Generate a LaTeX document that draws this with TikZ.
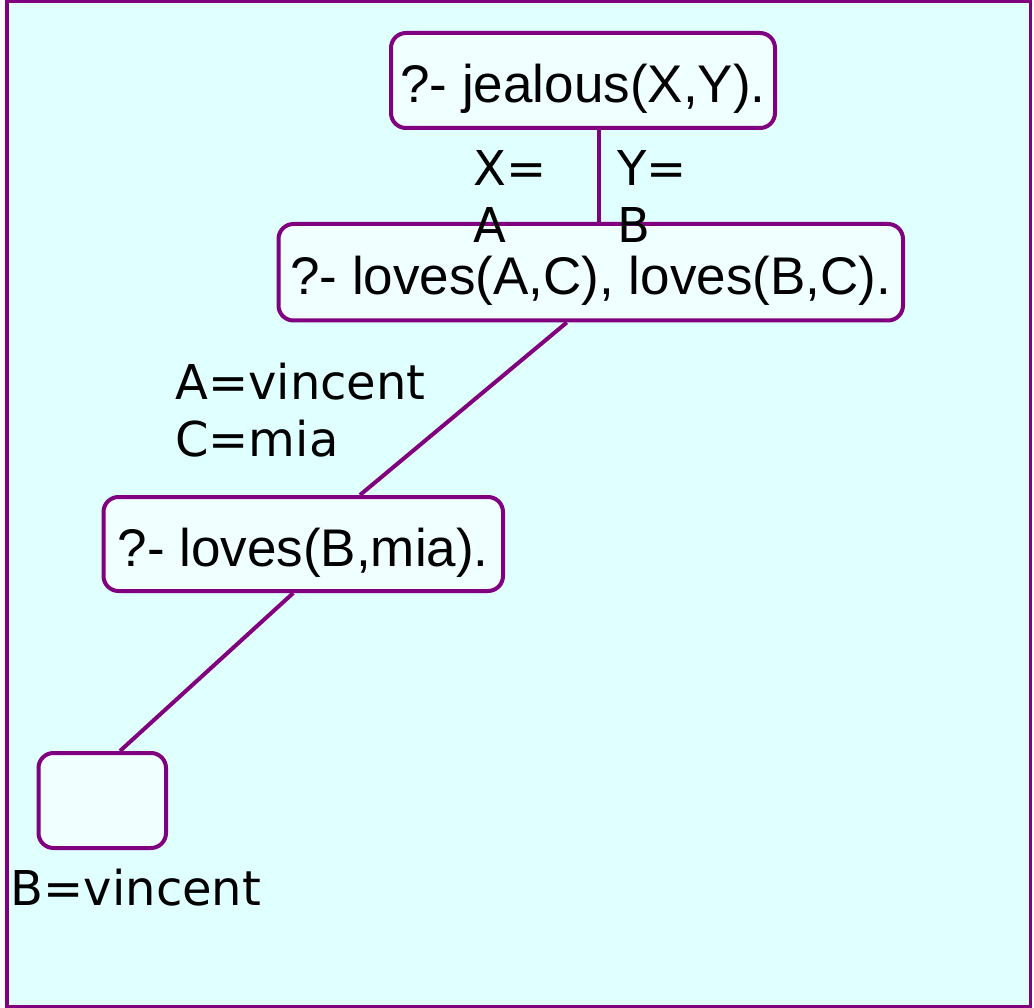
\documentclass[tikz,border=0pt]{standalone}
\usepackage{fontspec}
\newfontfamily\goalfont{Liberation Sans}
\newfontfamily\bindfont{DejaVu Sans}
\definecolor{treeline}{HTML}{800080}
\definecolor{panelbg}{HTML}{E0FFFF}
\definecolor{goalbg}{HTML}{F0FFFF}
\tikzset{
  goal/.style={draw=treeline, fill=goalbg, line width=4pt, rounded corners=15pt,
    inner sep=0pt, text height=48pt, text depth=4pt,
    font=\goalfont\fontsize{53}{62}\selectfont},
  binding/.style={inner sep=0pt, anchor=base west, align=left,
    font=\bindfont\fontsize{48}{57.5}\selectfont},
  branch/.style={draw=treeline, line width=4pt}
}
\begin{document}
\begin{tikzpicture}[x=1pt, y=-1pt]
  \useasboundingbox (0,0) rectangle (1034,1008);
  % panel
  \draw[draw=treeline, fill=panelbg, line width=3.6pt] (7,1.7) rectangle (1030.3,1007);

  % goals of the resolution tree
  \node[goal, minimum width=384pt, minimum height=95pt] (n1) at (583,80.5) {?- jealous(X,Y).};
  \node[goal, minimum width=624.5pt, minimum height=96.5pt] (n2) at (590.75,272.25) {?- loves(A,C), loves(B,C).};
  \node[goal, minimum width=399.5pt, minimum height=94pt] (n3) at (303.25,544) {?- loves(B,mia).};
  \node[goal, minimum width=127.5pt, minimum height=95pt] (n4) at (102.25,800.5) {};

  % branches
  \draw[branch] ([xshift=16pt]n1.south) -- ([xshift=16pt]n1.south |- n2.north);
  \draw[branch] ([xshift=-24pt]n2.south) -- ([xshift=56.75pt]n3.north);
  \draw[branch] ([xshift=-10pt]n3.south) -- ([xshift=17.75pt]n4.north);

  % substitutions (anchored at the baseline of the last line)
  \node[binding] (bx) at (473,243) {X=\\A};
  \node[binding] (by) at (617,243) {Y=\\B};
  \node[binding] (bac) at (175,456.5) {A=vincent\\C=mia};
  \node[binding] (bb) at (10.5,905) {B=vincent};
\end{tikzpicture}
\end{document}
